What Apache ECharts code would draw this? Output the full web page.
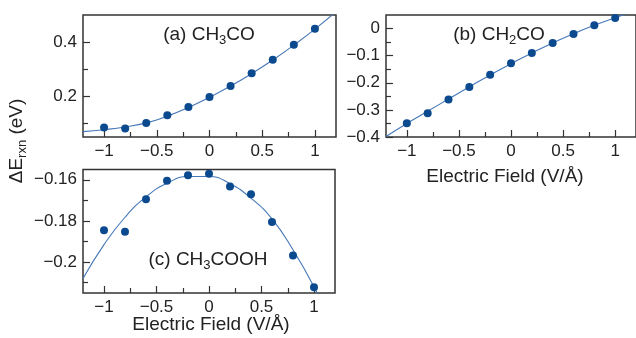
<!DOCTYPE html>
<html>
<head>
<meta charset="utf-8">
<script src="https://cdn.jsdelivr.net/npm/echarts@6/dist/echarts.min.js"></script>
<style>html,body{margin:0;padding:0;background:#fff}#c{width:636px;height:338px}</style>
</head>
<body>
<div id="c"></div>
<script>
// ---- data ----
const fieldX = [-1, -0.8, -0.6, -0.4, -0.2, 0, 0.2, 0.4, 0.6, 0.8, 1];
const ch3coE = [0.085, 0.081, 0.102, 0.130, 0.161, 0.198, 0.238, 0.285, 0.335, 0.390, 0.449];
const ch2coE = [-0.349, -0.312, -0.262, -0.216, -0.170, -0.128, -0.090, -0.053, -0.020, 0.012, 0.039];
const ch3coohE = [-0.1845, -0.1853, -0.1694, -0.1605, -0.1578, -0.1571, -0.1633, -0.1670, -0.1805, -0.1968, -0.2122];

const fitX = [-1.2, -1, -0.8, -0.6, -0.4, -0.2, 0, 0.2, 0.4, 0.6, 0.8, 1, 1.2];
const ch3coFit = [0.070, 0.077, 0.087, 0.102, 0.127, 0.159, 0.197, 0.238, 0.284, 0.334, 0.389, 0.448, 0.512];
const ch2coFit = [-0.398, -0.350, -0.305, -0.260, -0.215, -0.171, -0.130, -0.090, -0.053, -0.019, 0.012, 0.040, 0.066];
const ch3coohFit = [-0.208, -0.1915, -0.1782, -0.1683, -0.1617, -0.1584, -0.1584, -0.1619, -0.1689, -0.1790, -0.1940, -0.2120, -0.2334];

const xLabels = [-1, -0.5, 0, 0.5, 1];
const xMinor = [-0.75, -0.25, 0.25, 0.75];
const aLabels = [0.2, 0.4];
const aMinor = [0.1, 0.3];
const bLabels = [0, -0.1, -0.2, -0.3, -0.4];
const bMinor = [-0.05, -0.15, -0.25, -0.35];
const cLabels = [-0.16, -0.18, -0.2];
const cMinor = [-0.17, -0.19, -0.21];

// ---- chart ----
const FONT = '"Liberation Sans", Arial, Helvetica, sans-serif';
const TXT = '#222';
const AX = '#333';
const DOT = '#0b4a8e';
const LINE = '#4477b8';
const fmt = v => (v < 0 ? '\u2212' : '') + Math.abs(v);
const zip = (xs, ys) => xs.map((x, i) => [x, ys[i]]);

const chart = echarts.init(document.getElementById('c'), null, {renderer: 'canvas'});

function axisPair(kind, gi, min, max, labels, minor) {
  const base = {
    type: 'value', gridIndex: gi, min, max,
    position: kind === 'x' ? 'bottom' : 'left',
    axisLine: {show: false, onZero: false}, splitLine: {show: false}
  };
  return [
    Object.assign({}, base, {
      axisTick: {show: true, inside: true, length: 7, customValues: labels, lineStyle: {color: AX, width: 1.2}},
      axisLabel: {show: true, customValues: labels, formatter: fmt, fontSize: 17, fontFamily: FONT, color: TXT, margin: kind === 'x' ? 6 : 6}
    }),
    Object.assign({}, base, {
      axisTick: {show: true, inside: true, length: 5, customValues: minor, lineStyle: {color: AX, width: 1.2}},
      axisLabel: {show: false}
    })
  ];
}

const gridStyle = {show: true, borderColor: AX, borderWidth: 1.5, backgroundColor: 'transparent', containLabel: false};

const xAxis = [].concat(
  axisPair('x', 0, -1.2, 1.2, xLabels, xMinor),
  axisPair('x', 1, -1.2, 1.2, xLabels, xMinor),
  axisPair('x', 2, -1.2, 1.2, xLabels, xMinor)
);
const yAxis = [].concat(
  axisPair('y', 0, 0.05, 0.5, aLabels, aMinor),
  axisPair('y', 1, -0.4, 0.05, bLabels, bMinor),
  axisPair('y', 2, -0.215, -0.155, cLabels, cMinor)
);

function panelSeries(gi, pts, fit) {
  return [
    {type: 'line', xAxisIndex: gi * 2, yAxisIndex: gi * 2, data: zip(fitX, fit), smooth: 0.5,
     showSymbol: false, symbol: 'none', lineStyle: {color: LINE, width: 1.1}, clip: true, z: 2, silent: true},
    {type: 'scatter', xAxisIndex: gi * 2, yAxisIndex: gi * 2, data: zip(fieldX, pts), symbol: 'circle',
     symbolSize: 8, itemStyle: {color: DOT, opacity: 1}, clip: false, z: 3}
  ];
}

const subRich = {
  n: {fontSize: 19, fontFamily: FONT, color: TXT, lineHeight: 24},
  s: {fontSize: 13, fontFamily: FONT, color: TXT, lineHeight: 24, verticalAlign: 'bottom', padding: [14, 0, 0, 0]}
};

function label(x, y, text, rot) {
  return {
    type: 'text', x, y, rotation: rot || 0,
    style: {text, rich: subRich, font: '19px ' + FONT, fill: TXT, align: 'center', verticalAlign: 'middle'}
  };
}

chart.setOption({
  animation: false,
  backgroundColor: '#fff',
  grid: [
    Object.assign({left: 83, top: 15, width: 253, height: 122}, gridStyle),
    Object.assign({left: 386, top: 15, width: 253, height: 122}, gridStyle),
    Object.assign({left: 83, top: 169.5, width: 252, height: 123.5}, gridStyle)
  ],
  xAxis, yAxis,
  series: [].concat(
    panelSeries(0, ch3coE, ch3coFit),
    panelSeries(1, ch2coE, ch2coFit),
    panelSeries(2, ch3coohE, ch3coohFit)
  ),
  graphic: [
    label(209, 35, '{n|(a) CH}{s|3}{n|CO}'),
    label(499, 35, '{n|(b) CH}{s|2}{n|CO}'),
    label(208, 260, '{n|(c) CH}{s|3}{n|COOH}'),
    label(505, 177, '{n|Electric Field (V/\u00C5)}'),
    label(211, 325, '{n|Electric Field (V/\u00C5)}'),
    label(17, 141, '{n|\u0394E}{s|rxn}{n| (eV)}', Math.PI / 2)
  ]
});
</script>
</body>
</html>
